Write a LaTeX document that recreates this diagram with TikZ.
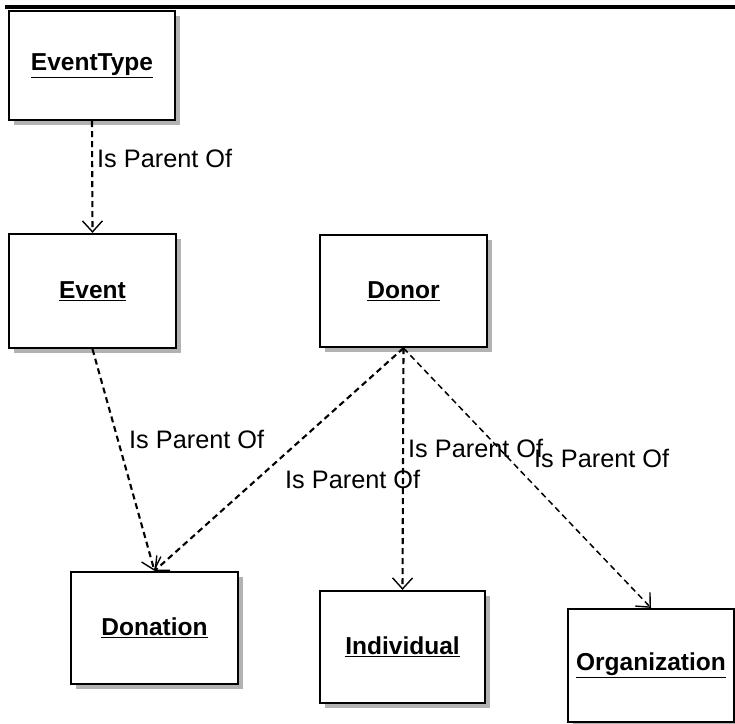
\documentclass[tikz,border=0pt]{standalone}
\usepackage{fontspec}
\setmainfont{Liberation Sans}
\usetikzlibrary{arrows.meta,shadows}
\begin{document}
\begin{tikzpicture}[x=1pt,y=-1pt,
  box/.style={draw=black, line width=2.2pt, fill=white, inner sep=0pt,
    font=\fontsize{24.5}{27}\selectfont\bfseries,
    drop shadow={shadow xshift=5pt, shadow yshift=-5pt, fill=black!30, opacity=1}},
  rel/.style={draw=black, line width=2.1pt, dash pattern=on 6pt off 4pt,
    -{Straight Barb[length=11pt,width=20pt,line width=1.4pt]}},
  lbl/.style={anchor=base west, inner sep=0pt, font=\fontsize{25.3}{28}\selectfont}]
\useasboundingbox (0,0) rectangle (735,723);
\fill[black] (5,4.5) rectangle (735,9);
\node[box, minimum width=166pt, minimum height=109pt] (et) at (92,65.5) {\underline{EventType}};
\node[box, minimum width=167pt, minimum height=114pt] (ev) at (92.5,291) {\underline{Event}};
\node[box, minimum width=167pt, minimum height=112pt] (dn) at (403.5,291) {\underline{Donor}};
\node[box, minimum width=167pt, minimum height=112pt] (don) at (154.5,628) {\underline{Donation}};
\node[box, minimum width=165pt, minimum height=112pt] (ind) at (402.5,647) {\underline{Individual}};
\node[box, minimum width=166pt, minimum height=113pt] (org) at (651,665.5) {\underline{Organization}};
\draw[rel] (et.south) -- (ev.north);
\draw[rel] (ev.south) -- (don.north);
\draw[rel] (dn.south) -- (don.north);
\draw[rel] (dn.south) -- (ind.north);
\draw[rel, line width=1.5pt] (dn.south) -- (org.north);
\node[lbl] (l1) at (97,167) {Is Parent Of};
\node[lbl] (l2) at (129,448) {Is Parent Of};
\node[lbl] (l3) at (285,488) {Is Parent Of};
\node[lbl] (l4) at (408,457) {Is Parent Of};
\node[lbl] (l5) at (534,467) {Is Parent Of};
\end{tikzpicture}
\end{document}
